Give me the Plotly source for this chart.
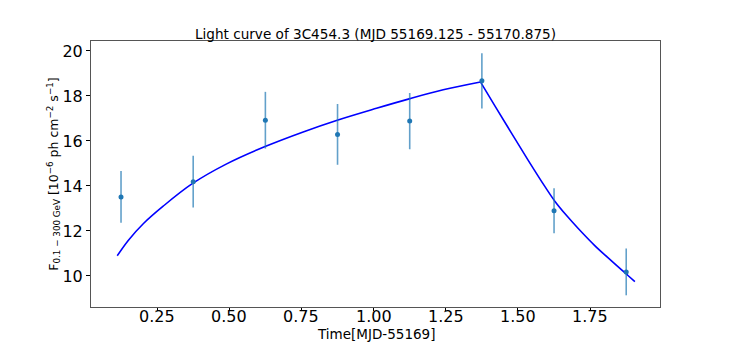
"""Light curve of 3C454.3 with fitted flare profile."""

import plotly.graph_objects as go

# Binned flux points (time in days after MJD 55169)
time_bins = [0.125, 0.375, 0.625, 0.875, 1.125, 1.375, 1.625, 1.875]
flux = [13.51, 14.19, 16.92, 16.29, 16.88, 18.67, 12.90, 10.18]
flux_err = [1.15, 1.15, 1.26, 1.35, 1.25, 1.23, 1.00, 1.04]

# Fitted profile: rising part and decaying part
rise_time = [0.112, 0.150, 0.202, 0.271, 0.373, 0.491, 0.624, 0.756, 0.874,
             1.010, 1.126, 1.241, 1.370]
rise_flux = [10.90, 11.58, 12.32, 13.10, 14.11, 14.98, 15.75, 16.40, 16.92,
             17.45, 17.88, 18.27, 18.62]
decay_time = [1.370, 1.419, 1.477, 1.535, 1.593, 1.629, 1.670, 1.708, 1.766,
              1.824, 1.881, 1.905]
decay_flux = [18.62, 17.58, 16.36, 15.15, 13.98, 13.30, 12.66, 12.12, 11.35,
              10.67, 10.02, 9.75]

x_ticks = [0.25, 0.5, 0.75, 1.0, 1.25, 1.5, 1.75]
x_labels = ["0.25", "0.50", "0.75", "1.00", "1.25", "1.50", "1.75"]
y_ticks = [10, 12, 14, 16, 18, 20]

FONT = "DejaVu Sans"

fig = go.Figure()
for t, f in ((rise_time, rise_flux), (decay_time, decay_flux)):
    fig.add_trace(
        go.Scatter(
            x=t,
            y=f,
            mode="lines",
            line=dict(color="#0000ff", width=1.6, shape="spline", smoothing=1.0),
            showlegend=False,
        )
    )
fig.add_trace(
    go.Scatter(
        x=time_bins,
        y=flux,
        mode="markers",
        marker=dict(color="#1f77b4", size=5),
        error_y=dict(
            type="data",
            array=flux_err,
            color="rgba(31,119,180,0.7)",
            thickness=1.6,
            width=0,
        ),
        showlegend=False,
    )
)

# x tick labels sit closer to the axis than plotly puts them, so draw them here
annotations = [
    dict(
        text=lab,
        xref="x",
        yref="paper",
        x=val,
        y=-0.034,
        xanchor="center",
        yanchor="middle",
        showarrow=False,
        font=dict(size=16, family=FONT, color="black"),
    )
    for val, lab in zip(x_ticks, x_labels)
]
annotations.append(
    dict(
        text="Time[MJD-55169]",
        xref="paper",
        yref="paper",
        x=0.5,
        y=-0.1,
        xanchor="center",
        yanchor="middle",
        showarrow=False,
        font=dict(size=13.5, family=FONT, color="black"),
    )
)

# the page body adds an 8px offset, so margins are shifted to compensate
fig.update_layout(
    width=734,
    height=346,
    margin=dict(l=83, r=82, t=33, b=47),
    paper_bgcolor="white",
    plot_bgcolor="white",
    font=dict(family=FONT, color="black"),
    title=dict(
        text="Light curve of 3C454.3 (MJD 55169.125 - 55170.875)",
        font=dict(size=13.6, family=FONT, color="black"),
        x=0.5,
        xanchor="center",
        xref="paper",
        y=1,
        yref="container",
        yanchor="top",
        pad=dict(t=21),
    ),
    annotations=annotations,
)
fig.update_xaxes(
    range=[0.021, 1.992],
    tickvals=x_ticks,
    showticklabels=False,
    ticks="outside",
    ticklen=3,
    tickcolor="black",
    showgrid=False,
    zeroline=False,
    showline=True,
    linecolor="#555555",
    linewidth=1,
    mirror=True,
    automargin=False,
)
fig.update_yaxes(
    range=[8.62, 20.44],
    tickvals=y_ticks,
    ticks="outside",
    ticklen=4,
    tickcolor="black",
    tickfont=dict(size=16, family=FONT),
    showgrid=False,
    zeroline=False,
    showline=True,
    linecolor="#555555",
    linewidth=1,
    mirror=True,
    automargin=False,
    title=dict(
        text="F<sub>0.1 − 300 GeV</sub> [10<sup>−6</sup> ph cm<sup>−2</sup> s<sup>−1</sup>]",
        font=dict(size=12.5, family=FONT),
        standoff=0,
    ),
)

fig.write_html("out.html")
